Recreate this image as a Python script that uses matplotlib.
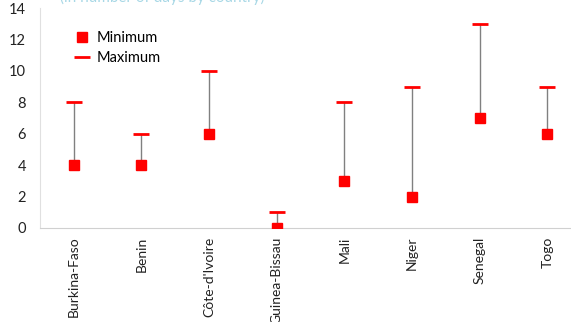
import matplotlib.pyplot as plt

countries = ['Burkina-Faso', 'Benin', "Côte-d'Ivoire", 'Guinea-Bissau',
             'Mali', 'Niger', 'Senegal', 'Togo']
minimum = [4, 4, 6, 0, 3, 2, 7, 6]
maximum = [8, 6, 10, 1, 8, 9, 13, 9]

plt.rcParams['font.family'] = ['Lato', 'DejaVu Sans']

fig = plt.figure(figsize=(5.71, 3.22), dpi=100)
ax = fig.add_axes([0.070, 0.292, 0.948, 0.683])

x = list(range(len(countries)))
ax.vlines(x, minimum, maximum, color='#808080', linewidth=1, zorder=1)
ax.plot(x, minimum, 's', color='#ff0000', markersize=6.5, label='Minimum', zorder=3)
ax.plot(x, maximum, '_', color='#ff0000', markersize=11, markeredgewidth=2,
        label='Maximum', zorder=3)

ax.set_xlim(-0.5, 7.5)
ax.set_ylim(0, 14)
ax.set_yticks(range(0, 15, 2))
ax.set_xticks(x)
ax.set_xticklabels(countries, rotation=90, fontsize=10, color='#222222')
ax.tick_params(axis='y', labelsize=10.5, length=0, pad=10, labelcolor='#222222')
ax.tick_params(axis='x', length=0, pad=6)

for s in ['top', 'right']:
    ax.spines[s].set_visible(False)
ax.spines['left'].set_color('#e0e0e0')
ax.spines['bottom'].set_color('#d0d0d0')

ax.legend(loc='upper left', bbox_to_anchor=(0.04, 0.955), frameon=False,
          fontsize=10.5, handlelength=1.0, handletextpad=0.5, labelspacing=0.4)

fig.text(60 / 571, 1 - 2 / 322, '(in number of days by country)', color='#a8d8e6',
         fontsize=11, va='baseline', ha='left')

fig.savefig('out.png', dpi=100)
